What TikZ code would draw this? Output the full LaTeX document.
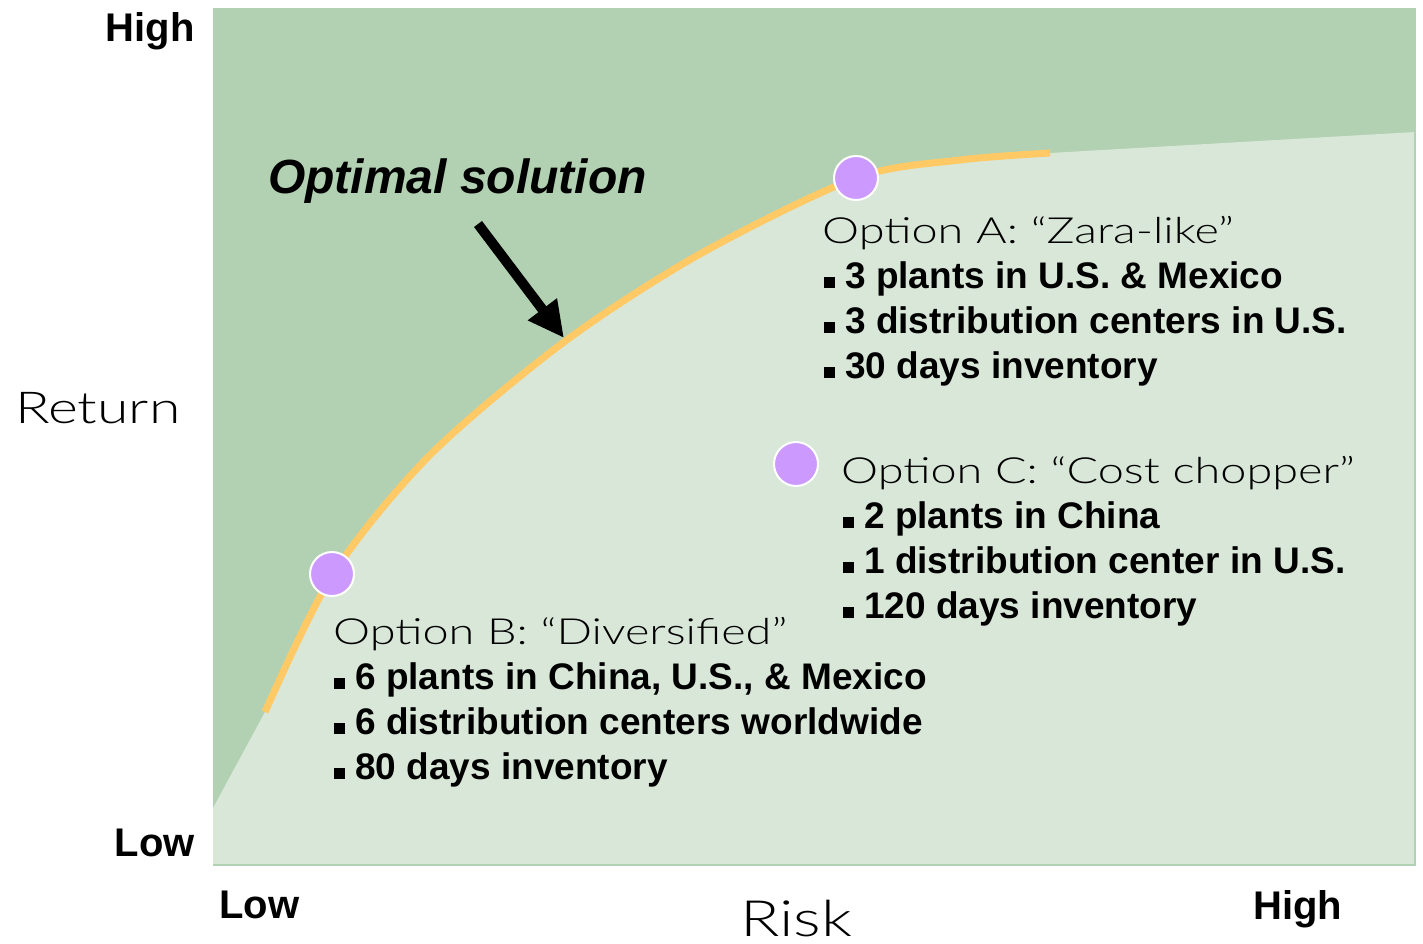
\documentclass[tikz,border=0pt]{standalone}
\usepackage{fontspec}
\setmainfont{Liberation Sans}
\newfontfamily\thinfont{Lato Light}[FakeStretch=1.3]
\usetikzlibrary{arrows.meta}
\definecolor{FrontierDark}{RGB}{178,209,178}
\definecolor{FrontierLight}{RGB}{217,231,217}
\definecolor{CurveOrange}{RGB}{255,201,102}
\definecolor{OptionPurple}{RGB}{204,153,255}
\newcommand{\sqbul}{\rule{11pt}{11pt}\hspace{10pt}}

\begin{document}
\begin{tikzpicture}[x=1pt, y=-1pt,
    axislabel/.style={font=\fontsize{40}{48}\selectfont\bfseries, inner sep=0pt},
    axisname/.style={font=\thinfont\fontsize{44}{52}\selectfont, inner sep=0pt, anchor=base west},
    opttitle/.style={font=\thinfont\fontsize{36}{45}\selectfont, inner sep=0pt, anchor=base west},
    optline/.style={font=\fontsize{37}{45}\selectfont\bfseries, inner sep=0pt, anchor=base west},
    optdot/.style={circle, fill=OptionPurple, draw=white, line width=2pt,
                   minimum size=44pt, inner sep=0pt}]
    \useasboundingbox (0,0) rectangle (1423,943);

    % Plot area: dark above the frontier, light below it
    \fill[FrontierDark] (213,8) rectangle (1415,865);
    \fill[FrontierLight] (213,808) -- plot[smooth] coordinates {(265,712) (333,574) (430,455) (564,342)
        (700,254) (856,178) (960,160) (1050,153)} -- (1415,132) -- (1415,865) -- (213,865) -- cycle;
    \draw[FrontierDark, line width=2pt] (213,865) -- (1415,865) -- (1415,8);

    % Efficient frontier
    \draw[CurveOrange, line width=7pt] plot[smooth] coordinates {(265,712) (333,574) (430,455) (564,342)
        (700,254) (856,178) (960,160) (1050,153)};

    % Options on and below the frontier
    \node[optdot] (optA) at (856,178) {};
    \node[optdot] (optB) at (332,574) {};
    \node[optdot] (optC) at (796,464) {};

    % Pointer to the frontier
    \node[font=\fontsize{48}{56}\selectfont\bfseries\itshape, inner sep=0pt, anchor=base west]
        (optlabel) at (268,193) {Optimal solution};
    \coordinate (arrtail) at (478,224);
    \coordinate (arrtip) at (564,338);
    \draw[line width=10pt, -{Triangle[length=36pt, width=34pt]}] (arrtail) -- (arrtip);

    % Option texts
    \node[opttitle] (titleA) at (822,243) {Option A: “Zara-like”};
    \foreach \txt [count=\k] in {3 plants in U.S. \& Mexico, 3 distribution centers in U.S., 30 days inventory}
        \node[optline] (lineA\k) at (824,243+45*\k) {\sqbul\txt};

    \node[opttitle] (titleC) at (841,483) {Option C: “Cost chopper”};
    \foreach \txt [count=\k] in {2 plants in China, 1 distribution center in U.S., 120 days inventory}
        \node[optline] (lineC\k) at (843,483+45*\k) {\sqbul\txt};

    \node[opttitle] (titleB) at (333,644) {Option B: “Diversified”};
    \foreach \txt [count=\k] in {{6 plants in China, U.S., \& Mexico}, 6 distribution centers worldwide, 80 days inventory}
        \node[optline] (lineB\k) at (334,644+45*\k) {\sqbul\txt};

    % Axes
    \node[axislabel, anchor=base east] (retHigh) at (195,41) {High};
    \node[axislabel, anchor=base east] (retLow) at (195,856) {Low};
    \node[axislabel, anchor=base west] (riskLow) at (219,918) {Low};
    \node[axislabel, anchor=base west] (riskHigh) at (1253,919) {High};
    \node[axisname] (retName) at (15,423) {Return};
    \node[axisname, font=\thinfont\fontsize{50}{56}\selectfont] (riskName) at (740,936) {Risk};
\end{tikzpicture}
\end{document}
